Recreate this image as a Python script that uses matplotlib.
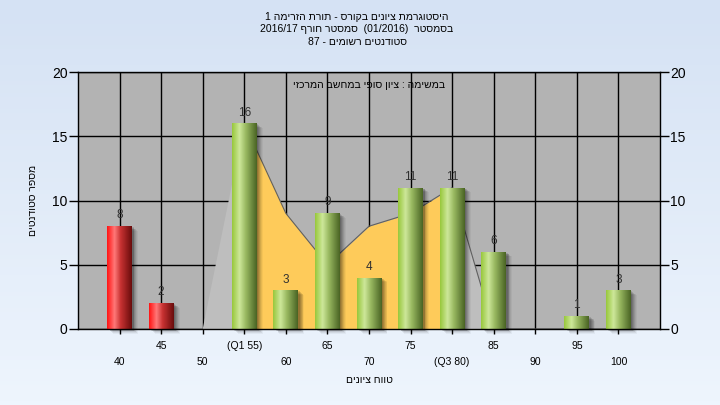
import matplotlib
matplotlib.use("Agg")
import matplotlib.pyplot as plt
import matplotlib.transforms as mtransforms
from matplotlib.colors import LinearSegmentedColormap
import numpy as np

plt.rcParams["font.family"] = ["Liberation Sans", "DejaVu Sans"]

# grade bins and student counts
GRADES = [40, 45, 50, 55, 60, 65, 70, 75, 80, 85, 90, 95, 100]
TICK_LABELS = ["40", "45", "50", "(Q1 55)", "60", "65", "70", "75", "(Q3 80)", "85", "90", "95", "100"]
STUDENTS = [8, 2, 0, 16, 3, 9, 4, 11, 11, 6, 0, 1, 3]
# background area series
AREA = [0, 0, 0, 16, 9, 5, 8, 9, 11, 0, 0, 0, 0]
Q1, Q3 = 55, 80
PASS_GRADE = 55

TITLE_LINES = [
    "היסטוגרמת ציונים בקורס - תורת הזרימה 1",
    "בסמסטר  (01/2016)  סמסטר חורף 2016/17",
    "סטודנטים רשומים - 87",
]
SUBTITLE = "במשימה : ציון סופי במחשב המרכזי"
XLABEL = "טווח ציונים"
YLABEL = "מספר סטודנטים"


def visual(s):
    """Hebrew text in display order (matplotlib has no bidi)."""
    out = []
    for tok in reversed(s.split(" ")):
        if any("\u0590" <= c <= "\u05ff" for c in tok):
            out.append(tok[::-1])
        else:
            out.append(tok)
    return " ".join(out)


green = LinearSegmentedColormap.from_list(
    "g", [(0, "#98c83c"), (0.3, "#cde79a"), (0.55, "#9aba62"), (1, "#4a6424")])
red = LinearSegmentedColormap.from_list(
    "r", [(0, "#ff1414"), (0.3, "#ff7878"), (0.55, "#c83232"), (1, "#6a0c0c")])

fig = plt.figure(figsize=(7.2, 4.05), dpi=100)

# light blue gradient background
bg = fig.add_axes([0, 0, 1, 1], zorder=-10)
bg.imshow(np.linspace(0, 1, 100).reshape(-1, 1),
          cmap=LinearSegmentedColormap.from_list("bg", ["#d5e2f4", "#eef5fd"]),
          aspect="auto", extent=[0, 1, 0, 1])
bg.axis("off")

ax = fig.add_axes([78 / 720, 1 - 329 / 405, 582 / 720, 257 / 405])
ax.set_facecolor("#b3b3b3")
x = np.arange(len(GRADES))
grades = np.array(GRADES)
area = np.array(AREA)

# area behind the bars: yellow between Q1 and Q3, light grey outside
ax.fill_between(x, area, where=(grades >= Q1) & (grades <= Q3), color="#fecb5a", lw=0, zorder=1)
ax.fill_between(x, area, where=(grades <= Q1) | (grades >= Q3), color="#bebebe", lw=0, zorder=1)
edge = grades >= Q1
ax.plot(x[edge], area[edge], color="#606060", lw=0.8, zorder=1.1)

width = 0.6
# soft shadow
for i, a in enumerate([0.12, 0.11, 0.10, 0.08, 0.06, 0.04]):
    off = mtransforms.ScaledTranslation((1.5 + i * 0.9) / 100, -(1 + i * 0.7) / 100, fig.dpi_scale_trans)
    ax.bar(x, STUDENTS, width, color="black", alpha=a, lw=0, zorder=2,
           transform=ax.transData + off, clip_on=False)

bars = ax.bar(x, STUDENTS, width, color="none", lw=0, zorder=3)
grad = np.linspace(0, 1, 64).reshape(1, -1)
for bar, g, v in zip(bars, GRADES, STUDENTS):
    if v == 0:
        continue
    x0 = bar.get_x()
    im = ax.imshow(grad, cmap=red if g < PASS_GRADE else green, aspect="auto",
                   extent=[x0, x0 + bar.get_width(), 0, v], zorder=3)
    im.set_clip_path(bar)
    ax.annotate(str(v), (bar.get_x() + bar.get_width() / 2, v), xytext=(0, 3.5),
                textcoords="offset points", ha="center", va="bottom",
                fontsize=8.5, color="#303030", zorder=4)

ax.set_xlim(-1, len(GRADES))
ax.set_ylim(0, 20)
ax.set_yticks([0, 5, 10, 15, 20])
ax.set_xticks(x)
ax.set_xticklabels([lab if i % 2 else "\n" + lab for i, lab in enumerate(TICK_LABELS)],
                   fontsize=7.5, linespacing=1.75)
ax.set_axisbelow(True)
ax.grid(True, color="black", lw=1)
ax.tick_params(axis="y", left=True, right=True, labelleft=True, labelright=True,
               direction="out", length=6.5, width=1, pad=1, labelsize=10, colors="black")
ax.tick_params(axis="x", direction="out", length=3.5, width=1, pad=5)
for s in ax.spines.values():
    s.set_color("black")
    s.set_linewidth(1)
    s.set_zorder(5)

ax.text(0.5, 0.95, visual(SUBTITLE), transform=ax.transAxes, ha="center", va="center",
        fontsize=7.5, zorder=6)
ax.set_xlabel(visual(XLABEL), fontsize=7.5, labelpad=6)
ax.set_ylabel(visual(YLABEL), fontsize=7.5, labelpad=10)

for i, line in enumerate(TITLE_LINES):
    fig.text(0.496, 1 - (17 + i * 12.5) / 405, visual(line), ha="center", va="center", fontsize=7.5)

fig.savefig("out.png", dpi=100)
